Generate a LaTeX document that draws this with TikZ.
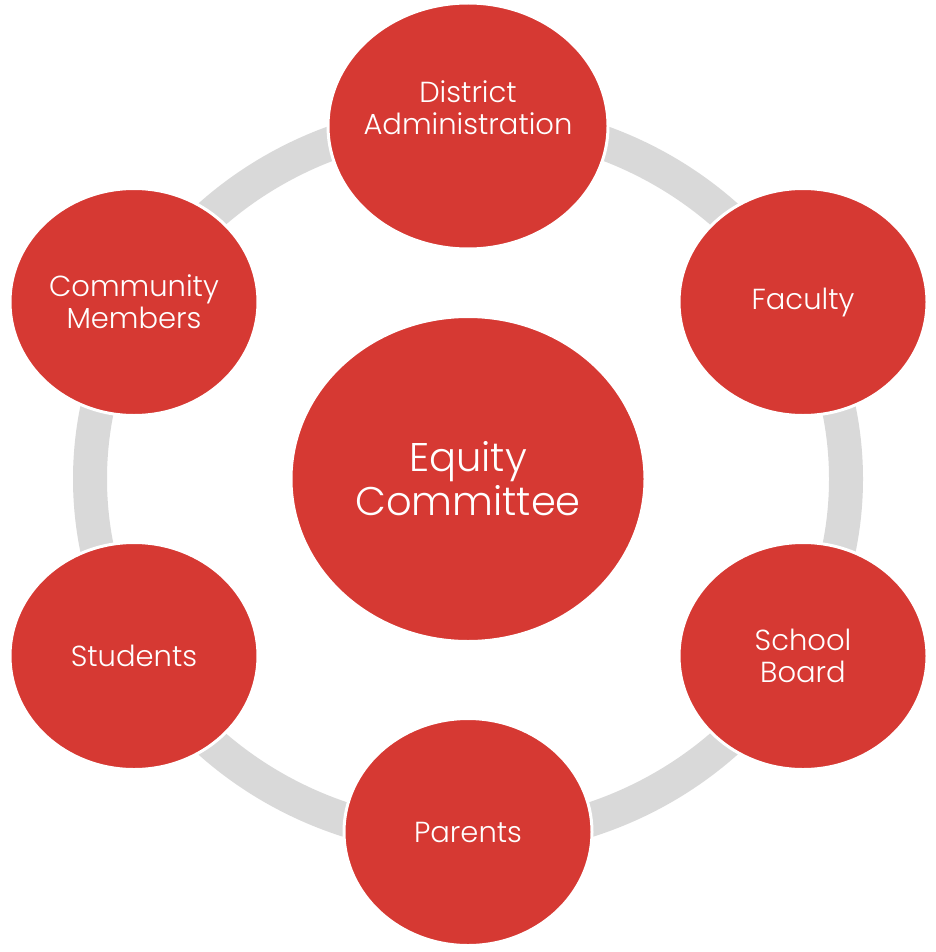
\documentclass[tikz,border=0pt]{standalone}
\usepackage{fontspec}
\setmainfont{Poppins}[UprightFont=* Light]
\usetikzlibrary{shapes.geometric}

\definecolor{equityred}{RGB}{214,57,51}
\definecolor{ringgray}{RGB}{217,217,217}

\begin{document}
\begin{tikzpicture}[x=1pt, y=-1pt,
        member/.style = {ellipse, fill=equityred, draw=white, line width=3pt,
                         inner sep=0pt, minimum width=248pt, minimum height=227pt,
                         text=white, align=center, font=\fontsize{29}{32}\selectfont},
        label text/.style = {text=white, align=center, font=\fontsize{29}{32}\selectfont},
        ring/.style = {draw=ringgray, line width=34pt}]
    \useasboundingbox (0,0) rectangle (935,952);

    % Centre
    \node [member, minimum width=354pt, minimum height=325pt,
           font=\fontsize{40}{44}\selectfont] (equity) at (468,479) {Equity\\Committee};

    % Ring behind the outer circles
    \draw [ring] (equity.center) ellipse [x radius=378, y radius=360];

    % Outer circles
    \node [member, minimum width=280pt, minimum height=246pt] (admin) at (468,126) {};
    \node [label text] (admintext) at ([yshift=18pt]admin.center) {District\\Administration};

    \node [member] (faculty)   at (803,302) {Faculty};
    \node [member] (board)     at (803,656) {School\\Board};
    \node [member] (parents)   at (468,832) {Parents};
    \node [member] (students)  at (134,656) {Students};
    \node [member] (community) at (134,302) {Community\\Members};
\end{tikzpicture}
\end{document}
